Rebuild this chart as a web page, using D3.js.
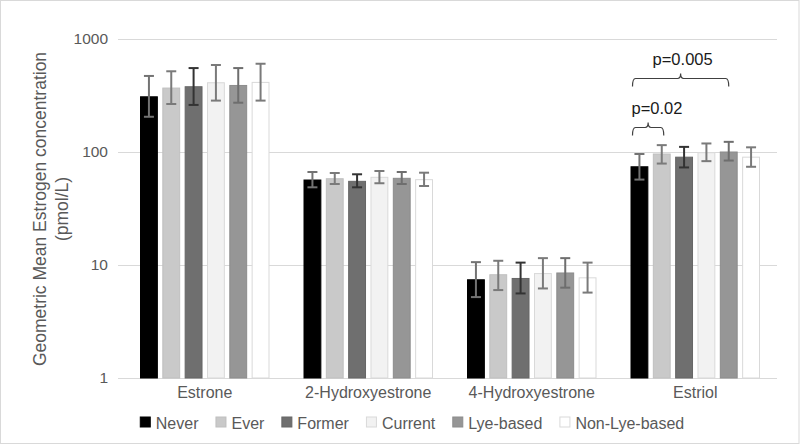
<!DOCTYPE html>
<html>
<head>
<meta charset="utf-8">
<script src="https://cdn.jsdelivr.net/npm/d3@7"></script>
<style>
  html, body { margin: 0; padding: 0; background: #fff; }
  svg { display: block; }
  text { font-family: "Liberation Sans", Arial, sans-serif; }
</style>
</head>
<body>
<svg id="chart" width="800" height="445"></svg>
<script>
// ---- data ----
const categories = ["Estrone", "2-Hydroxyestrone", "4-Hydroxyestrone", "Estriol"];
const seriesNames = ["Never", "Ever", "Former", "Current", "Lye-based", "Non-Lye-based"];
// geometric means [category][series]
const values = [
  [308, 368, 378, 410, 388, 413],
  [56.5, 58, 55, 59.7, 58.5, 56.9],
  [7.4, 8.2, 7.6, 8.4, 8.5, 7.7],
  [74, 96, 90, 98.6, 100, 90]
];
const lowerCI = [
  [205, 266, 261, 285, 273, 285],
  [48.7, 52.1, 48.7, 52.9, 52.1, 50.0],
  [5.2, 6.0, 5.6, 6.2, 6.3, 5.7],
  [57, 79, 73, 83, 84, 74]
];
const upperCI = [
  [471, 518, 553, 589, 553, 604],
  [66.5, 65.2, 63.5, 67.9, 66.5, 65.6],
  [10.6, 10.9, 10.5, 11.5, 11.5, 10.5],
  [96, 115, 111, 119, 123, 110]
];
const yTicks = [1, 10, 100, 1000];
const annotations = [
  {label: "p=0.02", category: "Estriol", from: "Never", to: "Ever"},
  {label: "p=0.005", category: "Estriol", from: "Never", to: "Lye-based"}
];

// ---- styles ----
const fills = ["#000000", "#c9c9c9", "#6f6f6f", "#f2f2f2", "#969696", "#ffffff"];
const strokes = ["#000000", "#bfbfbf", "#666666", "#d9d9d9", "#8c8c8c", "#d9d9d9"];
const errColors = ["#737373", "#7a7a7a", "#333333", "#7a7a7a", "#6e6e6e", "#7a7a7a"];

const svg = d3.select("#chart");
const W = 800, H = 445;

// outer frame
svg.append("rect").attr("x", 0.5).attr("y", 0.5).attr("width", W - 1.5).attr("height", H - 2)
  .attr("fill", "#fff").attr("stroke", "#d9d9d9");

const plot = {left: 123, right: 777, top: 39, bottom: 378};

const x0 = d3.scaleBand().domain(categories).range([plot.left, plot.right]).padding(0);
const x1 = d3.scaleBand().domain(seriesNames).range([-64.75, 64.75]).paddingInner(0.2);
const y = d3.scaleLog().domain([1, 1000]).range([plot.bottom, plot.top]);

// gridlines
svg.append("g").selectAll("line").data(yTicks).join("line")
  .attr("x1", plot.left - 5).attr("x2", plot.right)
  .attr("y1", d => Math.round(y(d)) + 0.5).attr("y2", d => Math.round(y(d)) + 0.5)
  .attr("stroke", "#d9d9d9").attr("stroke-width", 1);

// y axis labels
const yAxis = d3.axisLeft(y).tickValues(yTicks).tickFormat(d3.format("d")).tickSize(0).tickPadding(15);
const gy = svg.append("g").attr("transform", `translate(${plot.left},0)`).call(yAxis);
gy.select(".domain").remove();
gy.selectAll("text").attr("font-size", 15.5).attr("fill", "#595959")
  .style("font-family", "'Liberation Sans', Arial, sans-serif");

// x axis labels
const xAxis = d3.axisBottom(x0).tickSize(0).tickPadding(9);
const gx = svg.append("g").attr("transform", `translate(0,${plot.bottom})`).call(xAxis);
gx.select(".domain").remove();
gx.selectAll("text").attr("font-size", 16).attr("fill", "#595959")
  .style("font-family", "'Liberation Sans', Arial, sans-serif");

// bars
const cx = c => x0(c) + x0.bandwidth() / 2;
const rows = [];
categories.forEach((c, ci) => seriesNames.forEach((s, si) => {
  rows.push({c, s, si, v: values[ci][si], lo: lowerCI[ci][si], hi: upperCI[ci][si]});
}));

svg.append("g").selectAll("rect").data(rows).join("rect")
  .attr("x", d => cx(d.c) + x1(d.s) + 0.5)
  .attr("y", d => y(d.v))
  .attr("width", x1.bandwidth() - 1)
  .attr("height", d => y(1) - y(d.v))
  .attr("fill", d => fills[d.si])
  .attr("stroke", d => strokes[d.si])
  .attr("stroke-width", 1);

// error bars
const eg = svg.append("g");
rows.forEach(d => {
  const xm = cx(d.c) + x1(d.s) + x1.bandwidth() / 2;
  const col = errColors[d.si];
  eg.append("line").attr("x1", xm).attr("x2", xm).attr("y1", y(d.lo)).attr("y2", y(d.hi))
    .attr("stroke", col).attr("stroke-width", 2);
  [d.lo, d.hi].forEach(v => {
    eg.append("line").attr("x1", xm - 5).attr("x2", xm + 5).attr("y1", y(v)).attr("y2", y(v))
      .attr("stroke", col).attr("stroke-width", 2);
  });
});

// brackets
const ag = svg.append("g");
annotations.forEach((a, i) => {
  const xa = cx(a.category) + x1(a.from) + 2;
  const xb = a.to === "Ever" ? cx(a.category) + x1(a.to) + x1.bandwidth() / 2 + 2
                             : cx(a.category) + x1(a.to) + x1.bandwidth() / 2;
  const yl = i === 0 ? 127.5 : 78.5;
  const ye = yl + 8;
  const xm = (xa + xb) / 2;
  const r = 3;
  const p = `M${xa},${ye} Q${xa},${yl} ${xa + r},${yl} L${xm - r},${yl} Q${xm},${yl} ${xm},${yl - 5} Q${xm},${yl} ${xm + r},${yl} L${xb - r},${yl} Q${xb},${yl} ${xb},${ye}`;
  ag.append("path").attr("d", p).attr("fill", "none").attr("stroke", "#404040").attr("stroke-width", 1.2);
  const t = ag.append("text").attr("y", yl - 14)
    .attr("font-size", 16.5).attr("fill", "#1a1a1a").text(a.label);
  if (i === 0) t.attr("x", xa - 1).attr("text-anchor", "start");
  else t.attr("x", xm + 2).attr("text-anchor", "middle");
});

// y axis title
const title = svg.append("text").attr("transform", "translate(46,209) rotate(-90)")
  .attr("text-anchor", "middle").attr("font-size", 17.5).attr("fill", "#595959");
title.append("tspan").attr("x", 0).attr("dy", 0).text("Geometric Mean Estrogen concentration");
title.append("tspan").attr("x", 0).attr("dy", 22).text("(pmol/L)");

// legend
const leg = svg.append("g");
const legY = 423;
const fontSize = 16;
let lx = 0;
const items = [];
const tmp = svg.append("text").attr("font-size", fontSize);
seriesNames.forEach((s, i) => {
  tmp.text(s);
  const w = tmp.node().getComputedTextLength();
  items.push({s, i, x: lx, w});
  lx += 11 + 5 + w + 17;
});
tmp.remove();
const totalW = lx - 17;
const startX = 412 - totalW / 2;
items.forEach(it => {
  const g = leg.append("g").attr("transform", `translate(${startX + it.x},${legY})`);
  g.append("rect").attr("x", 0.5).attr("y", -6).attr("width", 10).attr("height", 10)
    .attr("fill", fills[it.i]).attr("stroke", strokes[it.i]);
  g.append("text").attr("x", 16).attr("y", 0).attr("dy", "0.35em")
    .attr("font-size", fontSize).attr("fill", "#595959").text(it.s);
});
</script>
</body>
</html>
